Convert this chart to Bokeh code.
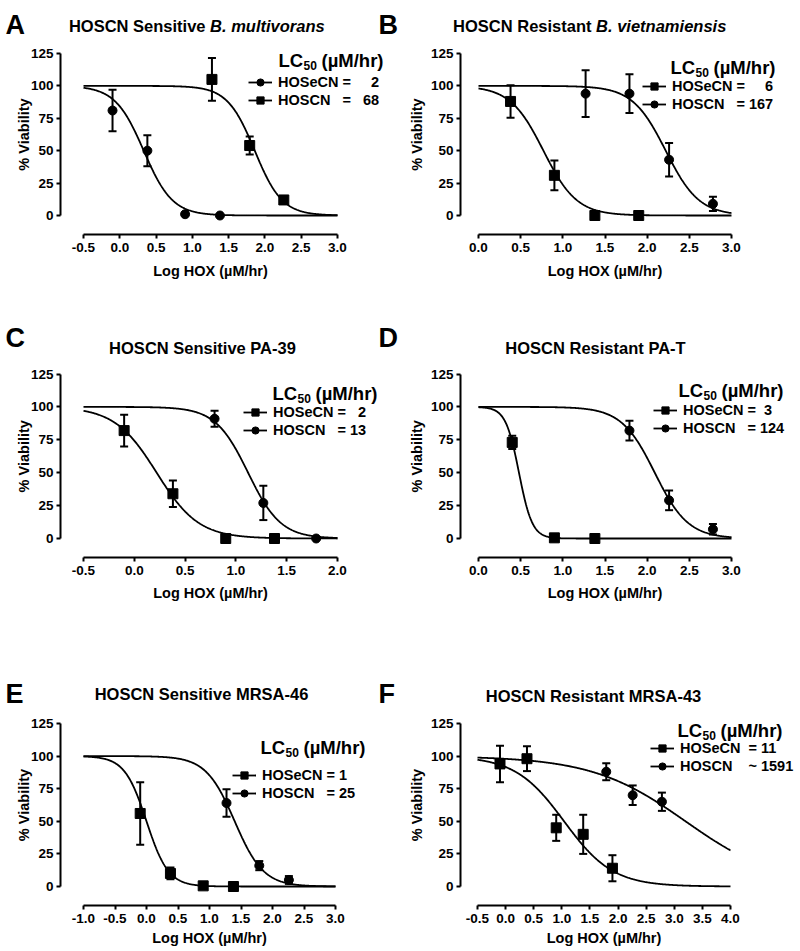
import numpy as np
from bokeh.plotting import figure
from bokeh.layouts import column, row
from bokeh.models import (Range1d, Label, Legend, LegendItem, Whisker, TeeHead,
                          ColumnDataSource, FixedTicker, PrintfTickFormatter)
from bokeh.embed import file_html
from bokeh.resources import INLINE

FONT = "Liberation Sans"

# ---------------- data ----------------
Y_TICKS = [0, 25, 50, 75, 100, 125]
FIT_TOP = 100
FIT_BOTTOM = 0

# Panel A - HOSCN Sensitive B. multivorans
A_secn_x = [-0.10, 0.38, 0.90, 1.38]
A_secn_y = [81, 50, 1, 0]
A_secn_err = [16, 12, 0, 0]
A_scn_x = [1.27, 1.79, 2.26]
A_scn_y = [105, 54, 12]
A_scn_err = [16.5, 7, 3]
A_secn_fit = [0.33, 2.2]   # log LC50, Hill slope
A_scn_fit = [1.86, 2.3]
A_xticks = [-0.5, 0.0, 0.5, 1.0, 1.5, 2.0, 2.5, 3.0]
A_legend = ["HOSeCN\u00a0=\u00a0\u2007\u20072", "HOSCN\u2007\u00a0=\u00a0\u200768"]

# Panel B - HOSCN Resistant B. vietnamiensis
B_secn_x = [0.38, 0.90, 1.38, 1.90]
B_secn_y = [88, 31, 0, 0]
B_secn_err = [12.5, 11.5, 0, 0]
B_scn_x = [1.27, 1.79, 2.26, 2.78]
B_scn_y = [94, 94, 43, 9]
B_scn_err = [18, 15, 13, 5.5]
B_secn_fit = [0.77, 2.2]
B_scn_fit = [2.22, 2.2]
B_xticks = [0.0, 0.5, 1.0, 1.5, 2.0, 2.5, 3.0]
B_legend = ["HOSeCN\u00a0=\u00a0\u2007\u20076", "HOSCN\u2007\u00a0=\u00a0167"]

# Panel C - HOSCN Sensitive PA-39
C_secn_x = [-0.10, 0.38, 0.90, 1.38]
C_secn_y = [82, 34, 0, 0]
C_secn_err = [12, 10, 0, 0]
C_scn_x = [0.79, 1.27, 1.79]
C_scn_y = [91, 27, 0]
C_scn_err = [6, 13, 0]
C_secn_fit = [0.22, 2.1]
C_scn_fit = [1.12, 2.7]
C_xticks = [-0.5, 0.0, 0.5, 1.0, 1.5, 2.0]
C_legend = ["HOSeCN\u00a0=\u00a0\u20072", "HOSCN\u2007\u00a0=\u00a013"]

# Panel D - HOSCN Resistant PA-T
D_secn_x = [0.40, 0.90, 1.38]
D_secn_y = [73, 0.5, 0]
D_secn_err = [5, 0, 0]
D_scn_x = [1.79, 2.26, 2.78]
D_scn_y = [82, 29, 7]
D_scn_err = [7.5, 7.5, 4]
D_secn_fit = [0.48, 5.5]
D_scn_fit = [2.09, 2.2]
D_xticks = [0.0, 0.5, 1.0, 1.5, 2.0, 2.5, 3.0]
D_legend = ["HOSeCN\u00a0=\u00a0\u00a03", "HOSCN\u2007\u00a0=\u00a0124"]

# Panel E - HOSCN Sensitive MRSA-46
E_secn_x = [-0.10, 0.38, 0.90, 1.38]
E_secn_y = [56, 10, 0.5, 0]
E_secn_err = [24, 4.5, 0, 0]
E_scn_x = [1.27, 1.79, 2.26]
E_scn_y = [64, 16, 5]
E_scn_err = [10.5, 3.5, 3]
E_secn_fit = [0.00, 2.5]
E_scn_fit = [1.40, 1.9]
E_xticks = [-1.0, -0.5, 0.0, 0.5, 1.0, 1.5, 2.0, 2.5, 3.0]
E_legend = ["HOSeCN\u00a0=\u00a01", "HOSCN\u2007\u00a0=\u00a025"]

# Panel F - HOSCN Resistant MRSA-43
F_secn_x = [-0.10, 0.38, 0.90, 1.38, 1.90]
F_secn_y = [94, 98, 45, 40, 14]
F_secn_err = [14, 9.5, 10, 15, 10]
F_scn_x = [1.79, 2.26, 2.78]
F_scn_y = [88, 70, 65]
F_scn_err = [6.5, 7.5, 7]
F_secn_fit = [1.04, 1.0]
F_scn_fit = [3.20, 0.52]
F_xticks = [-0.5, 0.0, 0.5, 1.0, 1.5, 2.0, 2.5, 3.0, 3.5, 4.0]
F_legend = ["HOSeCN\u00a0\u00a0=\u00a011", "HOSCN\u2007\u00a0\u00a0~\u00a01591"]

# ---------------- layout (page pixel geometry) ----------------
ROW_TOP = [0, 305, 625]
ROW_H = [305, 320, 326]
COL_LEFT = [0, 400]
COL_W = [400, 400]
YAXIS_X = [60, 460]
AXIS_Y = [234, 557, 905]
Y0_PX = [215, 538, 886]
Y125_PX = [53, 373.5, 723]
XLAB_OFF = [36, 35, 32]
YLAB_X = [23, 416]


def lab(p, g, text, rx, ry, size, style="bold", align="left", baseline="middle", angle=0.0):
    p.add_layout(Label(x=rx - g["fl"], y=g["fb"] - ry, x_units="screen", y_units="screen",
                       text=text, text_font=FONT, text_font_size=size, text_font_style=style,
                       text_color="black", text_align=align, text_baseline=baseline, angle=angle))


def build(col, rw, xticks, X_first, X_last, secn, scn, secn_marker, scn_marker,
          legend_labels, header_xy, legend_xy):
    fig_l, fig_w = COL_LEFT[col], COL_W[col]
    fig_t, fig_h = ROW_TOP[rw], ROW_H[rw]
    ya_x, ax_y = YAXIS_X[col], AXIS_Y[rw]
    y0, y125 = Y0_PX[rw], Y125_PX[rw]
    sx = (X_last - X_first) / (xticks[-1] - xticks[0])
    xs = xticks[0] - (X_first - fig_l) / sx
    xe = xticks[0] + (fig_l + fig_w - X_first) / sx
    sy = (y0 - y125) / 125.0
    ys = -(fig_t + fig_h - y0) / sy
    ye = (y0 - fig_t) / sy
    p = figure(width=fig_w, height=fig_h, x_range=Range1d(xs, xe), y_range=Range1d(ys, ye),
               min_border=0, min_border_left=0, min_border_right=0, min_border_top=0,
               min_border_bottom=0, toolbar_location=None, output_backend="svg", title=None)
    p.background_fill_color = "white"
    p.border_fill_color = "white"
    p.outline_line_color = None
    p.xgrid.visible = False
    p.ygrid.visible = False
    for ax in (p.xaxis[0], p.yaxis[0]):
        ax.axis_line_width = 2
        ax.axis_line_color = "black"
        ax.major_tick_line_width = 2
        ax.major_tick_line_color = "black"
        ax.major_tick_in = 0
        ax.major_tick_out = 4
        ax.minor_tick_line_color = None
        ax.major_label_text_font = FONT
        ax.major_label_text_font_style = "bold"
        ax.major_label_text_font_size = "13.5px"
        ax.major_label_text_color = "black"
        ax.axis_label = None
    p.xaxis.ticker = FixedTicker(ticks=xticks)
    p.xaxis.bounds = (xticks[0], xticks[-1])
    p.xaxis.formatter = PrintfTickFormatter(format="%.1f")
    p.xaxis.major_label_standoff = 4
    p.xaxis.fixed_location = -(ax_y - y0) / sy
    p.yaxis.ticker = FixedTicker(ticks=Y_TICKS)
    p.yaxis.bounds = (Y_TICKS[0], Y_TICKS[-1])
    p.yaxis.major_label_standoff = 3
    p.yaxis.fixed_location = xticks[0] - (X_first - ya_x) / sx

    g = {"fl": fig_l, "fb": fig_t + fig_h}
    items = []
    for (x, y, err, fit), marker, lbl in ((secn, secn_marker, legend_labels[0]),
                                          (scn, scn_marker, legend_labels[1])):
        cx = np.linspace(xticks[0], xticks[-1], 400)
        cy = FIT_BOTTOM + (FIT_TOP - FIT_BOTTOM) / (1 + 10 ** ((cx - fit[0]) * fit[1]))
        lr = p.line(cx, cy, line_color="black", line_width=1.8)
        ex = [a for a, e in zip(x, err) if e > 0]
        ey = [b for b, e in zip(y, err) if e > 0]
        ee = [e for e in err if e > 0]
        if ex:
            src = ColumnDataSource(dict(x=ex, upper=[b + e for b, e in zip(ey, ee)],
                                        lower=[b - e for b, e in zip(ey, ee)]))
            p.add_layout(Whisker(source=src, base="x", upper="upper", lower="lower",
                                 line_width=2, line_color="black",
                                 upper_head=TeeHead(size=8, line_width=2, line_color="black"),
                                 lower_head=TeeHead(size=8, line_width=2, line_color="black")))
        sr = p.scatter(x, y, marker=marker, size=10 if marker == "square" else 9,
                       fill_color="black", line_color="black")
        items.append(LegendItem(label=lbl, renderers=[lr, sr]))

    gx, gy1 = legend_xy
    leg = Legend(items=items, location=(gx - fig_l, fig_t + fig_h - (gy1 + 18 + 9)),
                 label_text_font=FONT, label_text_font_style="bold", label_text_font_size="14.5px",
                 label_text_color="black", glyph_width=24, glyph_height=18, label_height=18,
                 label_standoff=6, spacing=0, padding=0, margin=0,
                 border_line_alpha=0, background_fill_alpha=0)
    p.add_layout(leg)

    hx, hy = header_xy
    lab(p, g, "LC", hx, hy, "18.5px")
    lab(p, g, "50", hx + 25, hy + 5, "12px")
    lab(p, g, "(\u00b5M/hr)", hx + 43, hy, "18.5px")

    lab(p, g, "% Viability", YLAB_X[col], (y0 + y125) / 2.0, "14.5px", align="center", angle=np.pi / 2)
    lab(p, g, "Log HOX (\u00b5M/hr)", (X_first + X_last) / 2.0, ax_y + XLAB_OFF[rw], "14.5px", align="center")
    return p, g


pA, gA = build(0, 0, A_xticks, 83, 337, (A_secn_x, A_secn_y, A_secn_err, A_secn_fit),
               (A_scn_x, A_scn_y, A_scn_err, A_scn_fit), "circle", "square",
               A_legend, (278, 60), (248, 82))
pB, gB = build(1, 0, B_xticks, 478, 731, (B_secn_x, B_secn_y, B_secn_err, B_secn_fit),
               (B_scn_x, B_scn_y, B_scn_err, B_scn_fit), "square", "circle",
               B_legend, (670, 67), (642, 86))
pC, gC = build(0, 1, C_xticks, 83, 337, (C_secn_x, C_secn_y, C_secn_err, C_secn_fit),
               (C_scn_x, C_scn_y, C_scn_err, C_scn_fit), "square", "circle",
               C_legend, (272, 393), (243, 412))
pD, gD = build(1, 1, D_xticks, 478, 731, (D_secn_x, D_secn_y, D_secn_err, D_secn_fit),
               (D_scn_x, D_scn_y, D_scn_err, D_scn_fit), "square", "circle",
               D_legend, (678, 390), (653, 410))
pE, gE = build(0, 2, E_xticks, 83, 335, (E_secn_x, E_secn_y, E_secn_err, E_secn_fit),
               (E_scn_x, E_scn_y, E_scn_err, E_scn_fit), "square", "circle",
               E_legend, (260, 747), (232, 775))
pF, gF = build(1, 2, F_xticks, 477, 730, (F_secn_x, F_secn_y, F_secn_err, F_secn_fit),
               (F_scn_x, F_scn_y, F_scn_err, F_scn_fit), "square", "circle",
               F_legend, (677, 730), (650, 748))

# panel letters
for p, g, (l1, l2), yl in ((pA, gA, ("A", "B"), 24), (pC, gC, ("C", "D"), 337), (pE, gE, ("E", "F"), 693)):
    lab(p, g, l1, 5, yl, "27px")
    lab(p, g, l2, 378, yl, "27px")

# titles
TS = "16.5px"
lab(pA, gA, "HOSCN Sensitive", 205, 25, TS, align="right")
lab(pA, gA, "B. multivorans", 209.6, 25, TS, style="bold italic")
lab(pB, gB, "HOSCN Resistant", 591, 25, TS, align="right")
lab(pB, gB, "B. vietnamiensis", 595.6, 25, TS, style="bold italic")
lab(pC, gC, "HOSCN Sensitive PA-39", 202, 347, TS, align="center")
lab(pD, gD, "HOSCN Resistant PA-T", 595, 347, TS, align="center")
lab(pE, gE, "HOSCN Sensitive MRSA-46", 201, 693, TS, align="center")
lab(pF, gF, "HOSCN Resistant MRSA-43", 593, 695, TS, align="center")

layout = column(row(pA, pB), row(pC, pD), row(pE, pF))
open("out.html", "w").write(file_html(layout, INLINE))
